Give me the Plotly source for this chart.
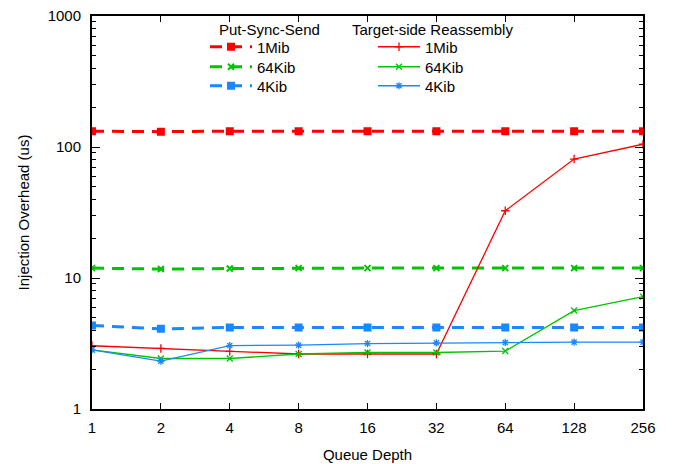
import plotly.graph_objects as go

queue_depth = [1, 2, 4, 8, 16, 32, 64, 128, 256]
tick_labels = ["1", "2", "4", "8", "16", "32", "64", "128", "256"]

pss_1mib = [132, 131, 132, 132, 132, 132, 132, 132, 132]
pss_64kib = [11.9, 11.7, 11.8, 11.9, 11.9, 11.9, 11.9, 11.9, 11.9]
pss_4kib = [4.34, 4.09, 4.19, 4.19, 4.19, 4.19, 4.19, 4.19, 4.19]

tsr_1mib = [3.04, 2.90, 2.75, 2.63, 2.63, 2.63, 32.6, 80.9, 105]
tsr_64kib = [2.83, 2.43, 2.43, 2.63, 2.70, 2.70, 2.77, 5.64, 7.21]
tsr_4kib = [2.83, 2.32, 3.05, 3.07, 3.16, 3.20, 3.22, 3.24, 3.24]

RED = "#ff0000"
GREEN = "#00c400"
BLUE = "#1a88ff"

FS = 15

# page body has an 8px margin: plot area should land at x 92..643, y 16..409
PAGE_OFF = 8
W, H = 673, 464
PL, PR, PT, PB = 92, 643, 16, 409
ML, MT = PL - PAGE_OFF, PT - PAGE_OFF
MR = W - (PR - PAGE_OFF)
MB = H - (PB - PAGE_OFF)

def px_x(px):
    return (px - PL) / (PR - PL)

def px_y(py):
    return 1 - (py - PT) / (PB - PT)

ROWS = [47, 67, 86]

fig = go.Figure()

def dashed(y, name, color, symbol, legend):
    fig.add_trace(go.Scatter(
        x=queue_depth, y=y, name=name, mode="lines+markers",
        line=dict(color=color, width=3, dash="12px,8px"),
        marker=dict(symbol=symbol, size=6, color=color,
                    line=dict(color=color, width=2)),
        legend=legend))

def solid(y, name, color, symbol, legend):
    fig.add_trace(go.Scatter(
        x=queue_depth, y=y, name=name, mode="lines+markers",
        line=dict(color=color, width=1.3),
        marker=dict(symbol=symbol, size=6, color=color,
                    line=dict(color=color, width=1.3)),
        legend=legend))

dashed(pss_1mib, "1Mib", RED, "square", "legend")
dashed(pss_64kib, "64Kib", GREEN, "x-thin", "legend2")
dashed(pss_4kib, "4Kib", BLUE, "square", "legend3")
solid(tsr_1mib, "1Mib", RED, "cross-thin", "legend4")
solid(tsr_64kib, "64Kib", GREEN, "x-thin", "legend5")
solid(tsr_4kib, "4Kib", BLUE, "asterisk", "legend6")

minor_y = [m * 10 ** e for e in range(0, 3) for m in range(2, 10)]

font = dict(family="Liberation Sans, Arial, sans-serif", size=FS, color="black")

legends = {}
names = ["legend", "legend2", "legend3", "legend4", "legend5", "legend6"]
for i, nm in enumerate(names):
    col_x = px_x(205) if i < 3 else px_x(373)
    legends[nm] = dict(
        x=col_x, y=px_y(ROWS[i % 3]), xanchor="left", yanchor="middle",
        bgcolor="rgba(0,0,0,0)", font=dict(size=FS), itemwidth=42,
    )

fig.update_layout(
    width=W, height=H,
    margin=dict(l=ML, r=MR, t=MT, b=MB),
    paper_bgcolor="white", plot_bgcolor="white",
    font=font,
    showlegend=True,
    xaxis=dict(
        type="log", range=[0, 8 * 0.30103], tickvals=queue_depth, ticktext=tick_labels,
        ticks="inside", ticklen=6, tickwidth=1, tickcolor="black",
        showline=True, linecolor="black", linewidth=2, mirror="ticks",
        showgrid=False, zeroline=False, automargin=False, ticklabelstandoff=4,
        ticklabeloverflow="allow",
        title=dict(text="Queue Depth", font=dict(size=FS), standoff=14),
    ),
    yaxis=dict(
        type="log", range=[0, 3], tickvals=[1, 10, 100, 1000],
        ticktext=["1", "10", "100", "1000"],
        ticks="inside", ticklen=8, tickwidth=1, tickcolor="black",
        minor=dict(tickvals=minor_y, ticks="inside", ticklen=4, tickcolor="black", showgrid=False),
        showline=True, linecolor="black", linewidth=2, mirror="ticks",
        showgrid=False, zeroline=False, automargin=False, ticklabelstandoff=6,
        ticklabeloverflow="allow",
        title=dict(text="Injection Overhead (us)", font=dict(size=FS), standoff=14),
    ),
    annotations=[
        dict(text="Put-Sync-Send", x=px_x(269), y=px_y(29), xref="paper", yref="paper",
             xanchor="center", yanchor="middle", showarrow=False, font=dict(size=FS)),
        dict(text="Target-side Reassembly", x=px_x(432), y=px_y(29), xref="paper", yref="paper",
             xanchor="center", yanchor="middle", showarrow=False, font=dict(size=FS)),
    ],
    **legends,
)

fig.write_html("out.html")
